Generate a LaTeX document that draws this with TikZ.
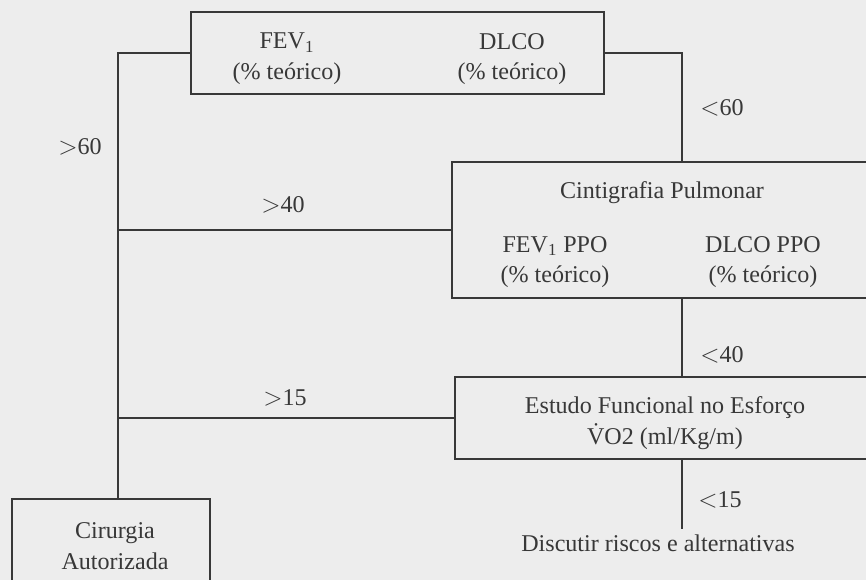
\documentclass[tikz,border=0pt]{standalone}
\usepackage{fontspec}
\setmainfont{Liberation Serif}
\usepackage{xcolor}
\usetikzlibrary{positioning}
\definecolor{ink}{gray}{0.22}
\definecolor{paper}{gray}{0.93}
\begin{document}
\begin{tikzpicture}[x=0.02cm,y=-0.02cm,font=\fontsize{13.7}{17.5}\selectfont,
  box/.style={draw=ink,line width=1.4pt,rectangle,inner sep=0pt},
  txt/.style={text=ink,align=center,inner sep=1pt},
  link/.style={draw=ink,line width=1.3pt}]
\useasboundingbox (0,0) rectangle (866,580);
\clip (0,0) rectangle (866,580);
\fill[paper] (0,0) rectangle (866,580);
\node[box,minimum width=8.26cm,minimum height=1.64cm] (funcao) at (397.5,53){};
\node[box,minimum width=8.56cm,minimum height=2.72cm] (cinti) at (666,230){};
\node[box,minimum width=8.5cm,minimum height=1.64cm] (esforco) at (667.5,418){};
\node[box,minimum width=3.96cm,minimum height=2.02cm] (cirurgia) at (111,549.5){};
\node[txt] (fev) at (287,59){FEV\textsubscript{1}\\(\% teórico)};
\node[txt] (dlco) at (512,59){DLCO\\(\% teórico)};
\node[txt] (cintitit) at (662,193){Cintigrafia Pulmonar};
\node[txt] (fevppo) at (555,262){FEV\textsubscript{1} PPO\\(\% teórico)};
\node[txt] (dlcoppo) at (763,262){DLCO PPO\\(\% teórico)};
\node[txt] (esftxt) at (665,423){Estudo Funcional no Esforço\\\.{V}O2 (ml/Kg/m)};
\node[txt] (cirtxt) at (115,546){Cirurgia\\Autorizada};
\node[txt] (discutir) at (658,543){Discutir riscos e alternativas};
\coordinate (tronco) at (118,0);
\coordinate (ramo) at (682,0);
\draw[link] (funcao.west) -| (cirurgia.north -| tronco);
\draw[link] (funcao.east) -| (cinti.north -| ramo);
\draw[link] (cinti.west) -- (cinti.west -| tronco);
\draw[link] (esforco.west) -- (esforco.west -| tronco);
\draw[link] (cinti.south -| ramo) -- (esforco.north -| ramo);
\draw[link] (esforco.south -| ramo) -- ([yshift=2pt]discutir.north -| ramo);
\node[txt] (l60a) at (80,147){$>$60};
\node[txt] (l60b) at (722,108){$<$60};
\node[txt] (l40a) at (283,205){$>$40};
\node[txt] (l40b) at (722,355){$<$40};
\node[txt] (l15a) at (285,398){$>$15};
\node[txt] (l15b) at (720,500){$<$15};
\end{tikzpicture}
\end{document}
